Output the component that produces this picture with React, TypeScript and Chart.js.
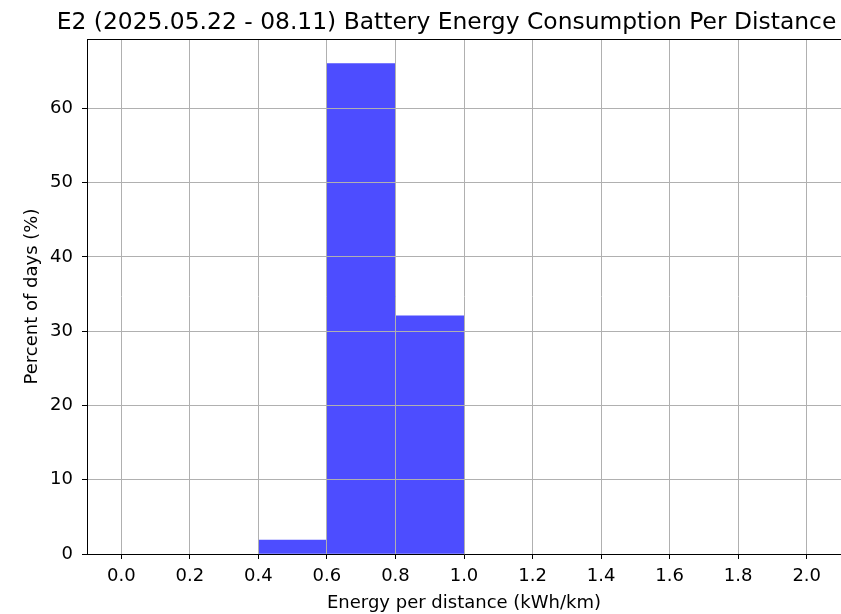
import React, { useEffect, useRef } from "react";
import { Chart, registerables } from "chart.js";

Chart.register(...registerables);

const TITLE = "E2 (2025.05.22 - 08.11) Battery Energy Consumption Per Distance";
const X_LABEL = "Energy per distance (kWh/km)";
const Y_LABEL = "Percent of days (%)";

const binStarts = [0.4, 0.6, 0.8];
const binWidth = 0.2;
const percents = [1.89, 66.04, 32.08];

const xTickValues = [0, 0.2, 0.4, 0.6, 0.8, 1.0, 1.2, 1.4, 1.6, 1.8, 2.0];
const xTickLabels = ["0.0", "0.2", "0.4", "0.6", "0.8", "1.0", "1.2", "1.4", "1.6", "1.8", "2.0"];
const yTickValues = [0, 10, 20, 30, 40, 50, 60];
const yTickLabels = ["0", "10", "20", "30", "40", "50", "60"];

const X_MIN = -0.1;
const X_MAX = 2.1;
const Y_MIN = 0;
const Y_MAX = 69.34;

const FONT = '"DejaVu Sans", sans-serif';

const mplPlugin = {
  id: "mplExtras",
  afterDraw(chart: any) {
    const { ctx, chartArea } = chart;
    ctx.save();
    // top spine
    ctx.strokeStyle = "#000";
    ctx.lineWidth = 1;
    ctx.beginPath();
    ctx.moveTo(chartArea.left, chartArea.top + 0.5);
    ctx.lineTo(chartArea.right, chartArea.top + 0.5);
    ctx.stroke();
    // title
    ctx.font = `23.4px ${FONT}`;
    ctx.fillStyle = "#000";
    ctx.textAlign = "center";
    ctx.textBaseline = "alphabetic";
    ctx.fillText(TITLE, 446.5, 29);
    ctx.restore();
  },
};

export default function App() {
  const ref = useRef<HTMLCanvasElement | null>(null);

  useEffect(() => {
    if (!ref.current) return;
    const data = binStarts.map((s, i) => ({ x: s + binWidth / 2, y: percents[i] }));
    const chart = new Chart(ref.current, {
      type: "bar",
      data: {
        datasets: [
          {
            data,
            backgroundColor: "rgb(77,77,255)",
            borderWidth: 0,
            barPercentage: 1,
            categoryPercentage: 1,
          },
        ],
      },
      plugins: [mplPlugin],
      options: {
        animation: false,
        responsive: false,
        devicePixelRatio: 1,
        layout: { padding: { top: 39, left: 0, right: 0, bottom: 0 } },
        plugins: {
          legend: { display: false },
          tooltip: { enabled: false },
          title: { display: false },
        },
        scales: {
          x: {
            type: "linear",
            min: X_MIN,
            max: X_MAX,
            bounds: "data",
            offset: false,
            afterBuildTicks: (s: any) => {
              s.ticks = xTickValues.map((v) => ({ value: v }));
            },
            afterFit: (s: any) => {
              s.height = 60;
            },
            grid: {
              offset: false,
              color: "#b0b0b0",
              lineWidth: 1,
              z: 1,
              drawTicks: true,
              tickLength: 5,
              tickColor: "#000",
            },
            border: { display: true, color: "#000", width: 1, z: 2 },
            ticks: {
              autoSkip: false,
              maxRotation: 0,
              minRotation: 0,
              padding: 7,
              color: "#000",
              font: { family: FONT, size: 18 },
              callback: (_v: any, i: number) => xTickLabels[i],
            },
            title: {
              display: true,
              text: X_LABEL,
              color: "#000",
              font: { family: FONT, size: 18 },
              padding: { top: 0, bottom: 0 },
            },
          },
          y: {
            type: "linear",
            min: Y_MIN,
            max: Y_MAX,
            bounds: "data",
            afterBuildTicks: (s: any) => {
              s.ticks = yTickValues.map((v) => ({ value: v }));
            },
            afterFit: (s: any) => {
              s.width = 87;
            },
            grid: {
              color: "#b0b0b0",
              lineWidth: 1,
              z: 1,
              drawTicks: true,
              tickLength: 5,
              tickColor: "#000",
            },
            border: { display: true, color: "#000", width: 1, z: 2 },
            ticks: {
              padding: 9,
              color: "#000",
              font: { family: FONT, size: 18 },
              callback: (_v: any, i: number) => yTickLabels[i],
            },
            title: {
              display: true,
              text: Y_LABEL,
              color: "#000",
              font: { family: FONT, size: 18 },
              padding: { top: 22, bottom: 0 },
            },
          },
        },
      } as any,
    });
    return () => chart.destroy();
  }, []);

  return (
    <div style={{ position: "absolute", left: 0, top: 0, width: 841, height: 614, background: "#fff" }}>
      <canvas ref={ref} width={841} height={614} style={{ display: "block" }} />
    </div>
  );
}
